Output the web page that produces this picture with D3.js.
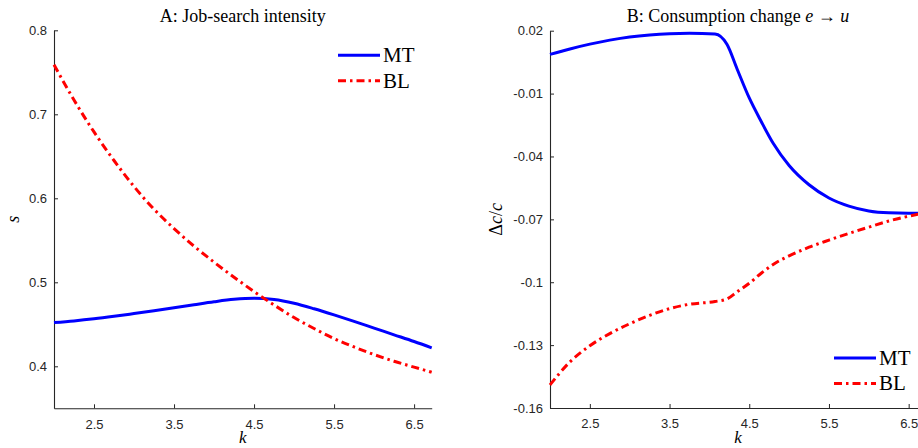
<!DOCTYPE html>
<meta charset="utf-8">
<title>Job search and consumption</title>

<style>
body{
	margin: 0;
	background: white;
}
svg text{
	fill: #000;
}
.tick text{
	font-family: "Liberation Sans", Arial, sans-serif;
	font-size: 13px;
	fill: #262626;
}
.tick line, .domain{
	stroke: #262626;
}
.serif{
	font-family: "Liberation Serif", "DejaVu Serif", serif;
}
</style>

<body>

<script src="https://d3js.org/d3.v7.min.js"></script>

<script>

// panel A : job-search intensity s against k
var kA  = [2, 2.25, 2.5, 2.75, 3, 3.25, 3.5, 3.75, 4, 4.25, 4.5, 4.75, 5, 5.25, 5.5, 5.75, 6, 6.25, 6.5, 6.72];
var mtA = [0.452, 0.454, 0.4565, 0.4595, 0.4628, 0.4662, 0.4697, 0.4733, 0.4768, 0.4797, 0.481, 0.4795, 0.475, 0.4685, 0.4612, 0.4535, 0.4455, 0.4375, 0.4295, 0.422];
var blA = [0.759, 0.717, 0.679, 0.645, 0.614, 0.587, 0.564, 0.543, 0.524, 0.506, 0.489, 0.473, 0.458, 0.445, 0.433, 0.423, 0.414, 0.406, 0.399, 0.393];

// panel B : consumption change e -> u
var kB  = [2, 2.25, 2.5, 2.75, 3, 3.25, 3.5, 3.75, 4.07, 4.22, 4.35, 4.5, 4.65, 4.8, 5, 5.25, 5.5, 5.75, 6, 6.25, 6.5, 6.72];
var mtB = [0.0087, 0.0113, 0.0136, 0.0155, 0.0170, 0.0180, 0.0186, 0.0188, 0.0184, 0.0135, 0.0015, -0.0121, -0.0233, -0.0337, -0.0443, -0.0535, -0.0598, -0.0637, -0.0660, -0.0669, -0.0671, -0.0671];
var blB = [-0.149, -0.138, -0.1303, -0.1245, -0.1198, -0.1158, -0.1126, -0.1105, -0.1092, -0.1080, -0.1045, -0.1005, -0.0957, -0.0915, -0.0874, -0.0833, -0.0799, -0.0767, -0.0737, -0.0708, -0.0685, -0.0668];

var kDomain = [2, 6.72];
var xTicks = [2.5, 3.5, 4.5, 5.5, 6.5];
var yTicksA = [0.4, 0.5, 0.6, 0.7, 0.8];
var yTicksB = [-0.16, -0.13, -0.1, -0.07, -0.04, -0.01, 0.02];
var yLabelsB = ['-0.16', '-0.13', '-0.1', '-0.07', '-0.04', '-0.01', '0.02'];

var seriesNames = ['MT', 'BL'];
var seriesColors = ['#0000ff', '#ff0000'];
var seriesDash = [null, '8,4,2.5,4'];

var width = 918, height = 448;

var svg = d3.select('body')
	.append('svg')
	.attr('width', width)
	.attr('height', height);

function panel(o){
	var x = d3.scaleLinear().domain(kDomain).range([o.left, o.right]);
	var y = d3.scaleLinear().domain(o.ydomain).range([o.bottom, o.top]);
	var g = svg.append('g');

	g.append('g')
		.attr('transform', 'translate(0,' + o.bottom + ')')
		.call(d3.axisBottom(x).tickValues(xTicks).tickSizeInner(-4).tickSizeOuter(0).tickPadding(11).tickFormat(d3.format('.1f')));

	g.append('g')
		.attr('transform', 'translate(' + o.left + ',0)')
		.call(d3.axisLeft(y).tickValues(o.yticks).tickSizeInner(-4).tickSizeOuter(0).tickPadding(7)
			.tickFormat(function(d, i){ return o.ylabels[i]; }));

	g.selectAll('.domain').attr('stroke-width', 1.1);

	var series = [o.mt, o.bl];
	series.forEach(function(vals, s){
		var line = d3.line()
			.curve(d3.curveMonotoneX)
			.x(function(d, i){ return x(o.k[i]); })
			.y(function(d){ return y(d); });
		g.append('path')
			.datum(vals)
			.attr('d', line)
			.attr('fill', 'none')
			.attr('stroke', seriesColors[s])
			.attr('stroke-width', 3)
			.attr('stroke-dasharray', seriesDash[s]);
	});

	// title
	var t = g.append('text')
		.attr('class', 'serif')
		.attr('x', (o.left + o.right) / 2)
		.attr('y', 21.5)
		.attr('text-anchor', 'middle')
		.style('font-size', '18px');
	o.title(t);

	// x label
	g.append('text')
		.attr('class', 'serif')
		.attr('x', (o.left + o.right) / 2)
		.attr('y', 443)
		.attr('text-anchor', 'middle')
		.style('font-size', '17px')
		.style('font-style', 'italic')
		.text('k');

	// y label
	var yl = g.append('text')
		.attr('class', 'serif')
		.attr('transform', 'translate(' + o.ylabelX + ',' + ((o.top + o.bottom) / 2) + ') rotate(-90)')
		.attr('text-anchor', 'middle')
		.style('font-size', '18px');
	o.ylabel(yl);

	// legend
	var lg = g.append('g');
	seriesNames.forEach(function(name, s){
		var ly = o.legendY + s * 25.4;
		lg.append('line')
			.attr('x1', o.legendX).attr('x2', o.legendX + 42)
			.attr('y1', ly).attr('y2', ly)
			.attr('stroke', seriesColors[s])
			.attr('stroke-width', 3)
			.attr('stroke-dasharray', seriesDash[s]);
		lg.append('text')
			.attr('class', 'serif')
			.attr('x', o.legendX + 45)
			.attr('y', ly + 7)
			.style('font-size', '21px')
			.text(name);
	});
}

panel({
	left: 54, right: 431.7, top: 30.3, bottom: 408.3,
	ydomain: [0.35, 0.8], yticks: yTicksA,
	ylabels: yTicksA.map(d3.format('.1f')),
	k: kA, mt: mtA, bl: blA,
	legendX: 338, legendY: 55.3, ylabelX: 19,
	title: function(t){ t.text('A: Job-search intensity'); },
	ylabel: function(t){ t.style('font-style', 'italic').text('s'); }
});

panel({
	left: 550, right: 926.2, top: 30.7, bottom: 408,
	ydomain: [-0.16, 0.02], yticks: yTicksB,
	ylabels: yLabelsB,
	k: kB, mt: mtB, bl: blB,
	legendX: 834, legendY: 358, ylabelX: 502,
	title: function(t){
		t.append('tspan').text('B: Consumption change ');
		t.append('tspan').style('font-style', 'italic').text('e');
		t.append('tspan').text(' \u2192 ');
		t.append('tspan').style('font-style', 'italic').text('u');
	},
	ylabel: function(t){
		t.append('tspan').text('\u0394');
		t.append('tspan').style('font-style', 'italic').text('c');
		t.append('tspan').text('/');
		t.append('tspan').style('font-style', 'italic').text('c');
	}
});

</script>
</body>
